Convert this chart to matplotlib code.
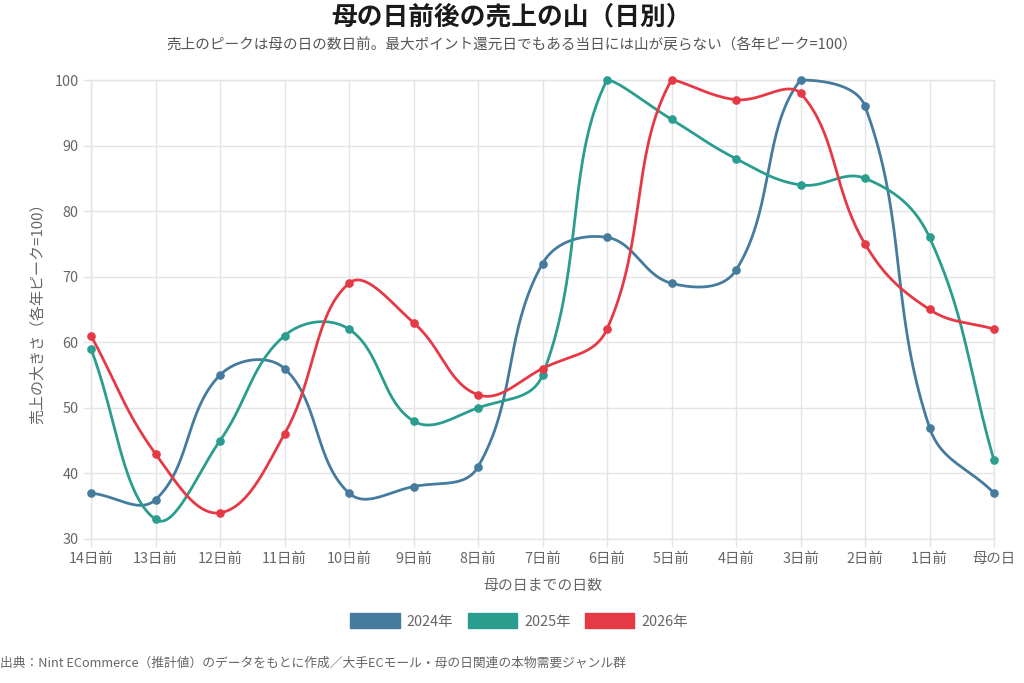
import numpy as np
import matplotlib
matplotlib.use("Agg")
import matplotlib.pyplot as plt
from matplotlib.patches import Patch

plt.rcParams['font.family'] = ['Noto Sans CJK JP', 'DejaVu Sans']

categories = ["14日前", "13日前", "12日前", "11日前", "10日前", "9日前", "8日前",
              "7日前", "6日前", "5日前", "4日前", "3日前", "2日前", "1日前", "母の日"]
series_names = ["2024年", "2025年", "2026年"]
s2024 = [37, 36, 55, 56, 37, 38, 41, 72, 76, 69, 71, 100, 96, 47, 37]
s2025 = [59, 33, 45, 61, 62, 48, 50, 55, 100, 94, 88, 84, 85, 76, 42]
s2026 = [61, 43, 34, 46, 69, 63, 52, 56, 62, 100, 97, 98, 75, 65, 62]
colors = ["#457b9d", "#2a9d8f", "#e63946"]
y_ticks = [30, 40, 50, 60, 70, 80, 90, 100]

title = "母の日前後の売上の山（日別）"
subtitle = "売上のピークは母の日の数日前。最大ポイント還元日でもある当日には山が戻らない（各年ピーク=100）"
xlabel = "母の日までの日数"
ylabel = "売上の大きさ（各年ピーク=100）"
source = "出典：Nint ECommerce（推計値）のデータをもとに作成／大手ECモール・母の日関連の本物需要ジャンル群"

W, H = 1024, 683
fig = plt.figure(figsize=(W / 100, H / 100), dpi=100)
L, R, T, B = 91, 994, 80, 539
ax = fig.add_axes([L / W, 1 - B / H, (R - L) / W, (B - T) / H])
ymin, ymax = 30, 100
xmax = len(categories) - 1
ax.set_xlim(0, xmax)
ax.set_ylim(ymin, ymax)

sx = (R - L) / xmax
sy = (B - T) / (ymax - ymin)


def spline(xs, ys, t=0.4, n=40):
    px = np.array(xs, float) * sx
    py = np.array(ys, float) * sy
    m = len(px)
    cp_prev, cp_next = [], []
    for i in range(m):
        p0 = (px[max(i - 1, 0)], py[max(i - 1, 0)])
        p1 = (px[i], py[i])
        p2 = (px[min(i + 1, m - 1)], py[min(i + 1, m - 1)])
        d01 = np.hypot(p1[0] - p0[0], p1[1] - p0[1])
        d12 = np.hypot(p2[0] - p1[0], p2[1] - p1[1])
        tot = d01 + d12
        s01 = d01 / tot if tot else 0
        s12 = d12 / tot if tot else 0
        fa, fb = t * s01, t * s12
        cp_prev.append([p1[0] - fa * (p2[0] - p0[0]), p1[1] - fa * (p2[1] - p0[1])])
        cp_next.append([p1[0] + fb * (p2[0] - p0[0]), p1[1] + fb * (p2[1] - p0[1])])
    lo_x, hi_x = 0, xmax * sx
    lo_y, hi_y = ymin * sy, ymax * sy
    for c in cp_prev + cp_next:
        c[0] = min(max(c[0], lo_x), hi_x)
        c[1] = min(max(c[1], lo_y), hi_y)
    out_x, out_y = [], []
    tt = np.linspace(0, 1, n)
    for i in range(m - 1):
        P0 = np.array([px[i], py[i]])
        P1 = np.array(cp_next[i])
        P2 = np.array(cp_prev[i + 1])
        P3 = np.array([px[i + 1], py[i + 1]])
        b = ((1 - tt) ** 3)[:, None] * P0 + (3 * (1 - tt) ** 2 * tt)[:, None] * P1 \
            + (3 * (1 - tt) * tt ** 2)[:, None] * P2 + (tt ** 3)[:, None] * P3
        out_x.extend(b[:, 0])
        out_y.extend(b[:, 1])
    return np.array(out_x) / sx, np.array(out_y) / sy


xs = np.arange(len(categories))
for vals, col in zip([s2024, s2025, s2026], colors):
    cx, cy = spline(xs, vals)
    ax.plot(cx, cy, color=col, lw=2.0, solid_capstyle='round', zorder=3, clip_on=False)
    ax.plot(xs, vals, 'o', color=col, ms=5.2, zorder=4, clip_on=False)

grid_c = "#e4e4e4"
ax.set_xticks(xs)
ax.set_xticklabels(categories)
ax.set_yticks(y_ticks)
ax.grid(True, color=grid_c, lw=1)
ax.set_axisbelow(True)
for sp in ax.spines.values():
    sp.set_color(grid_c)
    sp.set_linewidth(1)
ax.tick_params(axis='both', length=6, color=grid_c, labelcolor="#666666",
               labelsize=10.4, width=1)
ax.tick_params(axis='x', pad=3)
ax.tick_params(axis='y', pad=3)
ax.set_xlabel(xlabel, color="#666666", fontsize=10.7, labelpad=10)
ax.set_ylabel(ylabel, color="#666666", fontsize=10.8, labelpad=7)

fig.text(0.5, 1 - 17 / H, title, ha='center', va='center', fontsize=18.5,
         fontweight='bold', color="#1a1a1a")
fig.text(0.5, 1 - 45 / H, subtitle, ha='center', va='center', fontsize=10.5,
         color="#555555")
fig.text(0.0, 1 - 663 / H, source, ha='left', va='center', fontsize=9.2,
         color="#666666")

handles = [Patch(facecolor=c, edgecolor=c, label=n) for c, n in zip(colors, series_names)]
leg = fig.legend(handles=handles, loc='center', bbox_to_anchor=(0.507, 1 - 621 / H),
                 ncol=3, frameon=False, fontsize=10.4, handlelength=3.4,
                 handleheight=1.2, handletextpad=0.5, columnspacing=1.0)
for t in leg.get_texts():
    t.set_color("#666666")

fig.savefig("out.png", dpi=100)
